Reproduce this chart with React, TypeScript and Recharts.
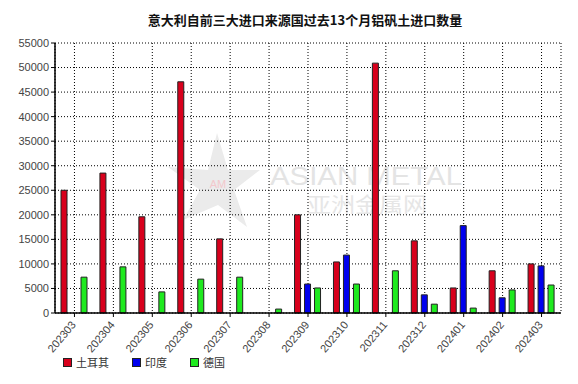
import React from 'react';
import { BarChart, Bar, XAxis, YAxis, CartesianGrid } from 'recharts';

const months = [
  '202303', '202304', '202305', '202306', '202307', '202308', '202309',
  '202310', '202311', '202312', '202401', '202402', '202403',
];
const turkey = [25000, 28500, 19600, 47100, 15100, null, 20000, 10400, 50900, 14700, 5100, 8600, 10000];
const india = [null, null, null, null, null, null, 5900, 11800, null, 3700, 17800, 3100, 9600];
const germany = [7300, 9400, 4300, 6900, 7300, 800, 5100, 5900, 8600, 1800, 1000, 4700, 5700];
const yTicks = [0, 5000, 10000, 15000, 20000, 25000, 30000, 35000, 40000, 45000, 50000, 55000];

const data = months.map((m, i) => ({
  name: m,
  turkey: turkey[i],
  india: india[i],
  germany: germany[i],
}));

const series = [
  { key: 'turkey', label: '土耳其', color: '#D8001C' },
  { key: 'india', label: '印度', color: '#0000EE' },
  { key: 'germany', label: '德国', color: '#1FEA1F' },
];

const font = '"Liberation Sans", Arial, sans-serif';
const cjk = '"Noto Sans CJK SC", sans-serif';

const XTick = (props: any) => {
  const { x, y, payload } = props;
  return (
    <g transform={`translate(${x + 2},${y + 6})`}>
      <text
        x={0}
        y={0}
        textAnchor="end"
        transform="rotate(-50)"
        fontSize={11}
        fontFamily={font}
        fill="#444"
      >
        {payload.value}
      </text>
    </g>
  );
};

const legendX = [63, 132, 190];

// legend drawn as its own layer so it doesn't shrink the plot area
const LegendLayer = () => (
  <svg width={300} height={20} style={{ position: 'absolute', left: 0, top: 354 }}>
    {series.map((s, i) => (
      <g key={s.key}>
        <rect x={legendX[i] + 0.5} y={4.5} width={8} height={8} fill={s.color} stroke="#222" />
        <text x={legendX[i] + 13} y={13} fontSize={11} fontFamily={cjk} fill="#333">
          {s.label}
        </text>
      </g>
    ))}
  </svg>
);

const Watermark = () => (
  <svg
    width={578}
    height={384}
    style={{ position: 'absolute', left: 0, top: 0 }}
  >
    <polygon
      points="217,133 228,170 260,170 234,190 247,227 218,205 183,220 200,190 168,167 208,170"
      fill="#ebebeb"
    />
    <text x={218} y={188} textAnchor="middle" fontSize={11} fontFamily={font} fill="#f3c8cc">
      AM
    </text>
    <text
      x={270}
      y={185}
      fontSize={25}
      fontFamily={font}
      fill="#e4e4e4"
      textLength={192}
      lengthAdjust="spacingAndGlyphs"
    >
      ASIAN METAL
    </text>
    <text
      x={307}
      y={212}
      fontSize={21}
      fontFamily={cjk}
      fill="#e6e6e6"
      textLength={120}
      lengthAdjust="spacingAndGlyphs"
    >
      亚洲金属网
    </text>
  </svg>
);

export default function App() {
  return (
    <div style={{ position: 'absolute', left: 0, top: 0, width: 578, height: 384, background: '#fff' }}>
      <Watermark />
      <div style={{ position: 'absolute', left: 0, top: 0 }}>
        <BarChart
          width={578}
          height={384}
          data={data}
          margin={{ top: 43, right: 17, left: 5, bottom: 21 }}
          barSize={6}
          barGap={4}
        >
          <text
            x={305}
            y={25}
            textAnchor="middle"
            fontSize={13}
            fontWeight="bold"
            fontFamily={cjk}
            fill="#111"
          >
            意大利自前三大进口来源国过去13个月铝矾土进口数量
          </text>
          <CartesianGrid stroke="#000" strokeDasharray="1 2" strokeWidth={1} />
          <XAxis
            dataKey="name"
            height={50}
            interval={0}
            tick={<XTick />}
            tickSize={4}
            tickLine={{ stroke: '#000' }}
            axisLine={{ stroke: '#000', strokeWidth: 1.5 }}
          />
          <YAxis
            width={50}
            domain={[0, 55000]}
            ticks={yTicks}
            interval={0}
            tickSize={4}
            tickLine={{ stroke: '#000' }}
            axisLine={{ stroke: '#000', strokeWidth: 1.5 }}
            tick={{ fontSize: 11, fontFamily: font, fill: '#444' }}
          />
          {series.map((s) => (
            <Bar
              key={s.key}
              dataKey={s.key}
              fill={s.color}
              stroke="#222"
              strokeWidth={1}
              isAnimationActive={false}
            />
          ))}
        </BarChart>
      </div>
      <LegendLayer />
    </div>
  );
}
